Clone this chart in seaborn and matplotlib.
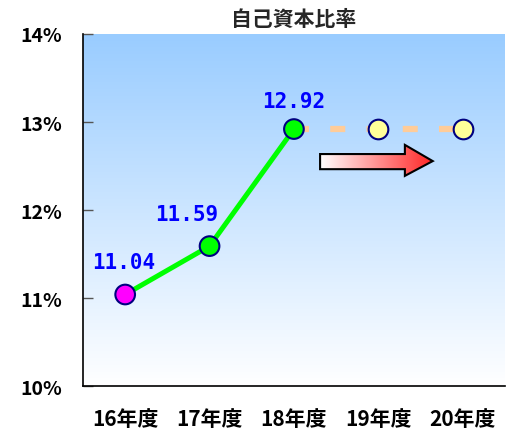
import numpy as np
import pandas as pd
import matplotlib
matplotlib.use("Agg")
import matplotlib.pyplot as plt
from matplotlib.patches import Polygon
import seaborn as sns

# 自己資本比率 (%)
years = ["16年度", "17年度", "18年度", "19年度", "20年度"]
actual_values = [11.04, 11.59, 12.92]
forecast_values = [12.92, 12.92, 12.92]
marker_colors = ["#FF00FF", "#00FF00", "#00FF00"]
y_ticks = [10, 11, 12, 13, 14]

sns.set_theme(style="white")
plt.rcParams["font.family"] = ["Noto Sans CJK JP", "DejaVu Sans"]

actual = pd.DataFrame({"x": np.arange(len(actual_values)), "ratio": actual_values})
forecast = pd.DataFrame({"x": np.arange(2, 2 + len(forecast_values)), "ratio": forecast_values})

fig = plt.figure(figsize=(5.11, 4.31), dpi=100)
ax = fig.add_axes([0.1624, 0.102, 0.8256, 0.8168])

# sky gradient behind the plot
grad = np.linspace(0, 1, 256)[:, None]
top = np.array([0.60, 0.80, 1.0])
bottom = np.array([1.0, 1.0, 1.0])
img = top[None, None, :] * (1 - grad[:, :, None]) + bottom[None, None, :] * grad[:, :, None]
ax.imshow(img, extent=[0, 1, 0, 1], transform=ax.transAxes, aspect="auto", zorder=0)

# forecast (dashed) and results (solid)
sns.lineplot(data=forecast, x="x", y="ratio", ax=ax, color="#FFCC99", linewidth=4.5,
             linestyle=(0, (2.4, 3.4)), zorder=2)
sns.lineplot(data=actual, x="x", y="ratio", ax=ax, color="#00FF00", linewidth=3.6, zorder=3)
ax.scatter(forecast["x"][1:], forecast["ratio"][1:], s=200, c="#FFFF99",
           edgecolors="#000080", linewidths=1.5, zorder=4)
ax.scatter(actual["x"], actual["ratio"], s=200, c=marker_colors,
           edgecolors="#000080", linewidths=1.5, zorder=5)

# value labels
label_offsets = [(-0.02, 0.37), (-0.27, 0.37), (0.0, 0.32)]
for (dx, dy), xv, yv in zip(label_offsets, actual["x"], actual["ratio"]):
    ax.text(xv + dx, yv + dy, f"{yv:.2f}", ha="center", va="center",
            color="#0000FF", fontsize=15, fontweight="bold",
            family=["DejaVu Sans Mono"], zorder=6)

# gradient arrow pointing ahead
arrow_pts = np.array([[0.562, 0.616], [0.763, 0.616], [0.763, 0.597],
                      [0.829, 0.639], [0.763, 0.685], [0.763, 0.659],
                      [0.562, 0.659]])
arrow = Polygon(arrow_pts, closed=True, transform=ax.transAxes,
                facecolor="none", edgecolor="black", lw=1.5, zorder=7)
ax.add_patch(arrow)
h = np.linspace(0, 1, 256)[None, :]
white = np.array([1.0, 1.0, 1.0])
red = np.array([1.0, 0.15, 0.15])
arr_img = white[None, None, :] * (1 - h[:, :, None]) + red[None, None, :] * h[:, :, None]
arr_img = np.repeat(arr_img, 4, axis=0)
im = ax.imshow(arr_img, extent=[0.562, 0.829, 0.597, 0.685], transform=ax.transAxes,
               aspect="auto", zorder=6)
im.set_clip_path(arrow)

ax.set_xlim(-0.5, 4.5)
ax.set_ylim(10, 14)
ax.set_yticks(y_ticks)
ax.set_yticklabels([f"{v}%" for v in y_ticks], fontsize=14, fontweight="bold",
                   color="black")
ax.set_xticks(range(len(years)))
ax.set_xticklabels(years, fontsize=15, fontweight="bold", color="black")
ax.set_xticks(np.arange(-0.5, 5.0, 1.0), minor=True)
ax.tick_params(axis="x", which="major", length=0, pad=16)
ax.tick_params(axis="x", which="minor", direction="in", length=7, color="#555555", width=1)
ax.tick_params(axis="y", direction="in", length=7, color="#555555", width=1, pad=15, left=True)
ax.set_xlabel("")
ax.set_ylabel("")
for side in ["top", "right"]:
    ax.spines[side].set_visible(False)
for side in ["left", "bottom"]:
    ax.spines[side].set_color("black")
    ax.spines[side].set_linewidth(1.2)

fig.text(0.574, 0.955, "自己資本比率", ha="center", va="center", fontsize=15,
         fontweight="bold")

fig.savefig("out.png", dpi=100)
